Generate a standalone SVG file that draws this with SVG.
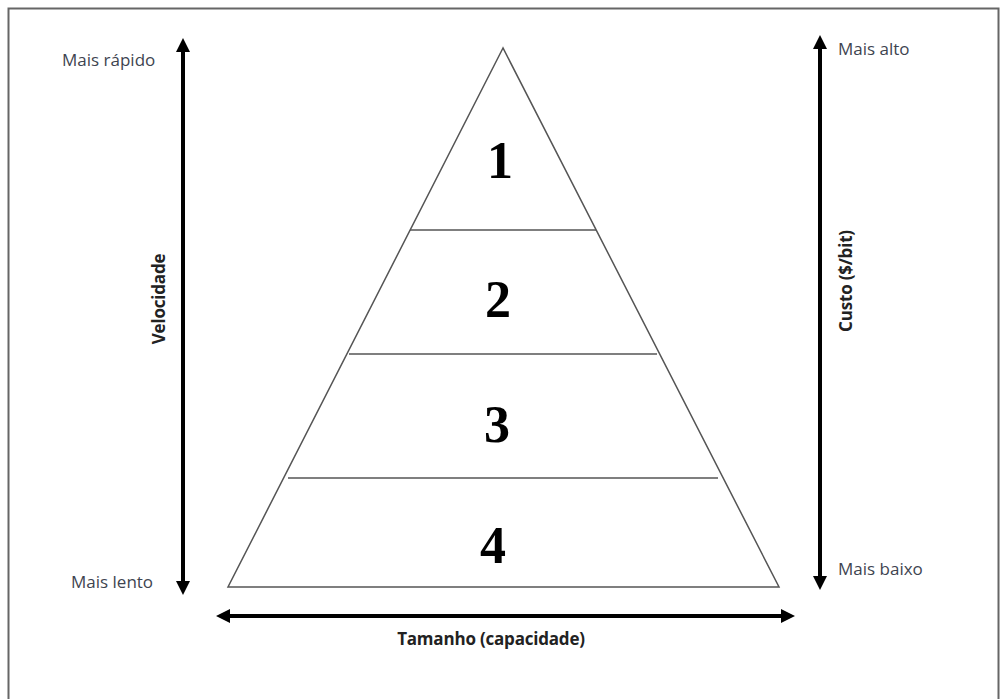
<svg xmlns="http://www.w3.org/2000/svg" width="1002" height="699" viewBox="0 0 1002 699">
<style>
.lbl{font-family:"Open Sans","Liberation Sans",sans-serif;font-size:17px;fill:#3e4450}
.bold{font-family:"Open Sans","Liberation Sans",sans-serif;font-size:17px;font-weight:bold;fill:#222;letter-spacing:-0.2px}
.num{font-family:"Liberation Serif","Times New Roman",serif;font-size:52px;font-weight:bold;fill:#000;text-anchor:middle}
.tri{fill:none;stroke:#555;stroke-width:1.5}
.axis{stroke:#000;stroke-width:4;fill:none}
</style>
<defs>
<marker id="ah" markerWidth="14" markerHeight="14" refX="0" refY="7" orient="auto-start-reverse" markerUnits="userSpaceOnUse">
<path d="M0,0 L14,7 L0,14 Z" fill="#000"/>
</marker>
</defs>
<rect x="0" y="0" width="1002" height="699" fill="#fff"/>
<rect x="8.5" y="8.5" width="990" height="720" fill="none" stroke="#666" stroke-width="2"/>
<g id="pyramid">
<polygon class="tri" points="503,48 228,587 779,587"/>
<line class="tri" x1="410" y1="230" x2="596" y2="230"/>
<line class="tri" x1="349" y1="354" x2="657" y2="354"/>
<line class="tri" x1="288" y1="478" x2="718" y2="478"/>
</g>
<g id="level1"><text class="num" x="500" y="178">1</text></g>
<g id="level2"><text class="num" x="498" y="317">2</text></g>
<g id="level3"><text class="num" x="497" y="442">3</text></g>
<g id="level4"><text class="num" x="493" y="563">4</text></g>
<g id="connectors">
<line class="axis" x1="183" y1="581" x2="183" y2="52" marker-end="url(#ah)" marker-start="url(#ah)"/>
<line class="axis" x1="820" y1="576" x2="820" y2="49" marker-end="url(#ah)" marker-start="url(#ah)"/>
<line class="axis" x1="230" y1="616" x2="781" y2="616" marker-end="url(#ah)" marker-start="url(#ah)"/>
</g>
<g id="labels">
<text class="lbl" x="62" y="66">Mais rápido</text>
<text class="lbl" x="71" y="588">Mais lento</text>
<text class="lbl" x="838" y="55">Mais alto</text>
<text class="lbl" x="838" y="575">Mais baixo</text>
<text class="bold" x="165" y="299" text-anchor="middle" transform="rotate(-90 165 299)">Velocidade</text>
<text class="bold" x="852" y="281" text-anchor="middle" transform="rotate(-90 852 281)">Custo ($/bit)</text>
<text class="bold" x="491" y="645" text-anchor="middle">Tamanho (capacidade)</text>
</g>
</svg>
